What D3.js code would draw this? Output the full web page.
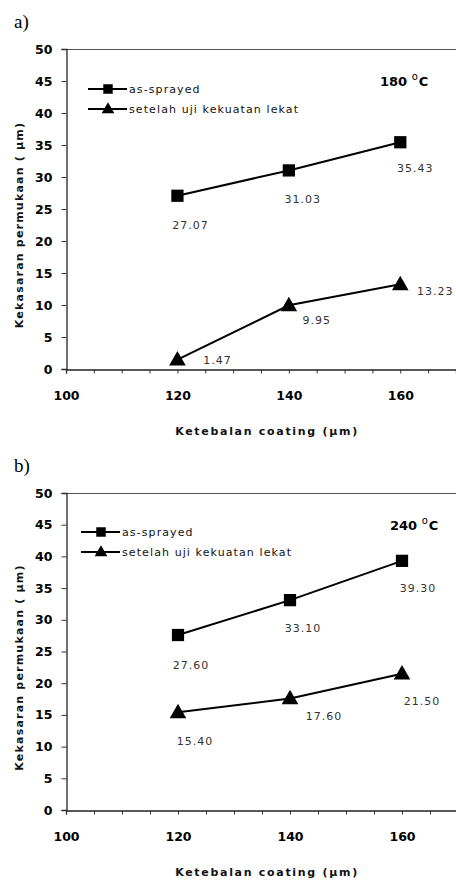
<!DOCTYPE html>
<html>
<head>
<meta charset="utf-8">
<script src="https://cdn.jsdelivr.net/npm/d3@7"></script>
<style>
  body { margin: 0; background: #fff; }
  svg { display: block; }
  .tick text { font-family: "DejaVu Sans", Verdana, sans-serif; font-weight: bold; font-size: 12.5px; fill: #000; }
  .lbl { font-family: "DejaVu Sans", Verdana, sans-serif; font-size: 11px; fill: #333; letter-spacing: 1px; }
  .leg { font-family: "DejaVu Sans", Verdana, sans-serif; font-size: 11px; fill: #111; letter-spacing: 1.1px; }
  .title { font-family: "DejaVu Sans", Verdana, sans-serif; font-weight: bold; font-size: 11px; fill: #111; letter-spacing: 1.7px; }
</style>
</head>
<body>
<svg id="chart" width="456" height="884"></svg>
<script>
'use strict'

// thickness of the coating (µm)
const thickness = [120, 140, 160]
const xTicks = [100, 120, 140, 160]
const yTicks = [0, 5, 10, 15, 20, 25, 30, 35, 40, 45, 50]

const seriesNames = ['as-sprayed', 'setelah uji kekuatan lekat']

// panel a) 180 °C
const sprayed180 = [27.07, 31.03, 35.43]
const afterTest180 = [1.47, 9.95, 13.23]
const labels180 = [['27.07', '31.03', '35.43'], ['1.47', '9.95', '13.23']]

// panel b) 240 °C
const sprayed240 = [27.60, 33.10, 39.30]
const afterTest240 = [15.40, 17.60, 21.50]
const labels240 = [['27.60', '33.10', '39.30'], ['15.40', '17.60', '21.50']]

const svg = d3.select('#chart')

const symbolSquare = d3.symbol().type(d3.symbolSquare).size(150)
const symbolTriangle = d3.symbol().type(d3.symbolTriangle).size(120)

function drawPanel(p) {
  const g = svg.append('g')
  const x = d3.scaleLinear().domain([100, 170]).range([66, p.right])
  const y = d3.scaleLinear().domain([0, 50]).range([p.bottom, p.top])

  // panel letter
  g.append('text')
    .attr('x', 14).attr('y', p.top - 21)
    .style('font-family', '"Liberation Serif", "DejaVu Serif", serif')
    .style('font-size', '19px')
    .text(p.letter)

  // top frame line
  g.append('line')
    .attr('x1', 66).attr('x2', 456)
    .attr('y1', y(50) + 0.5).attr('y2', y(50) + 0.5)
    .attr('stroke', '#555').attr('stroke-width', 1.2)

  // y axis
  const yAxis = g.append('g')
    .attr('transform', 'translate(66.5,0)')
    .call(d3.axisLeft(y).tickValues(yTicks).tickSize(5).tickPadding(9))
  yAxis.select('.domain').attr('stroke', '#222').attr('stroke-width', 1.3)
  yAxis.selectAll('.tick line').attr('stroke', '#333')

  // x axis: minor ticks every 5, labels every 20
  const xAxis = g.append('g')
    .attr('transform', `translate(0,${p.bottom + 0.5})`)
    .call(d3.axisBottom(x).tickValues(d3.range(100, 171, 5)).tickSize(4)
      .tickFormat(d => xTicks.includes(d) ? d : ''))
  xAxis.select('.domain').attr('stroke', '#222').attr('stroke-width', 1.3)
  xAxis.selectAll('.tick line').attr('stroke', '#333')
  xAxis.selectAll('.tick text').attr('dy', '1.85em')

  // axis titles
  g.append('text').attr('class', 'title')
    .attr('x', 267).attr('y', p.bottom + 66)
    .attr('text-anchor', 'middle')
    .text('Ketebalan coating (µm)')
  g.append('text').attr('class', 'title')
    .attr('transform', `translate(23,${(p.top + p.bottom) / 2 + 16}) rotate(-90)`)
    .attr('text-anchor', 'middle')
    .style('letter-spacing', '1.2px')
    .text('Kekasaran permukaan ( µm)')

  // temperature
  const t = g.append('text')
    .attr('x', p.tempX).attr('y', p.top + 37)
    .style('font-family', '"DejaVu Sans", Verdana, sans-serif')
    .style('font-weight', 'bold').style('font-size', '13px')
  t.append('tspan').text(p.temp + ' ')
  t.append('tspan').attr('dy', -6).style('font-size', '10px').style('font-weight', 'normal').text('o')
  t.append('tspan').attr('dy', 6).attr('dx', 1).text('C')

  const line = d3.line().x((d, i) => x(thickness[i])).y(d => y(d))
  const symbols = [symbolSquare, symbolTriangle]

  p.series.forEach((vals, s) => {
    g.append('path')
      .datum(vals)
      .attr('d', line)
      .attr('fill', 'none').attr('stroke', '#000').attr('stroke-width', 2)

    g.selectAll(null).data(vals).enter().append('path')
      .attr('d', symbols[s])
      .attr('transform', (d, i) => `translate(${x(thickness[i])},${y(d) + (s ? 1 : 0)})`)
      .attr('fill', '#000')

    g.selectAll(null).data(vals).enter().append('text')
      .attr('class', 'lbl')
      .attr('text-anchor', 'middle')
      .attr('x', (d, i) => x(thickness[i]) + p.offsets[s][i][0])
      .attr('y', (d, i) => y(d) + p.offsets[s][i][1] + 4)
      .text((d, i) => p.labels[s][i])
  })

  // legend
  const leg = g.append('g')
  seriesNames.forEach((name, s) => {
    const ly = p.legY + s * 20
    leg.append('line')
      .attr('x1', p.legX).attr('x2', p.legX + 39)
      .attr('y1', ly).attr('y2', ly)
      .attr('stroke', '#000').attr('stroke-width', 2)
    leg.append('path')
      .attr('d', d3.symbol().type(s ? d3.symbolTriangle : d3.symbolSquare).size(s ? 70 : 90))
      .attr('transform', `translate(${p.legX + 20},${ly + (s ? 0.5 : 0)})`)
      .attr('fill', '#000')
    leg.append('text').attr('class', 'leg')
      .attr('x', p.legX + 41).attr('y', ly + 4)
      .text(name)
  })
}

drawPanel({
  letter: 'a)', temp: '180', tempX: 380,
  top: 49, bottom: 369, right: 456,
  legX: 88, legY: 89,
  series: [sprayed180, afterTest180],
  labels: labels180,
  offsets: [[[13, 29], [14, 29], [15, 26]], [[40, 0], [28, 15], [35, 7]]]
})

drawPanel({
  letter: 'b)', temp: '240', tempX: 390,
  top: 493, bottom: 810, right: 458,
  legX: 81, legY: 532,
  series: [sprayed240, afterTest240],
  labels: labels240,
  offsets: [[[13, 30], [13, 28], [16, 27]], [[17, 29], [34, 18], [20, 27]]]
})
</script>
</body>
</html>
